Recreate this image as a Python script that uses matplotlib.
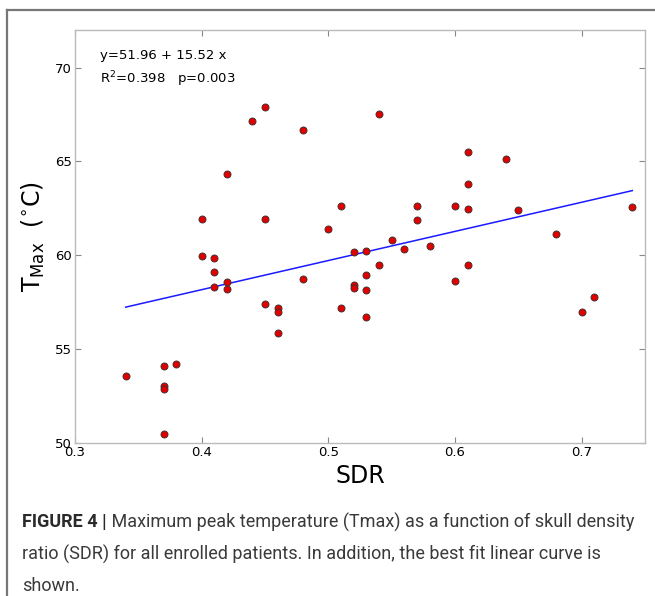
import matplotlib.pyplot as plt
import numpy as np
from matplotlib.lines import Line2D

# SDR vs maximum peak temperature
sdr = [0.34, 0.37, 0.37, 0.37, 0.37, 0.38,
       0.40, 0.40, 0.41, 0.41, 0.41, 0.42, 0.42, 0.42,
       0.44, 0.45, 0.45, 0.45, 0.46, 0.46, 0.46,
       0.48, 0.48, 0.50, 0.51, 0.51,
       0.52, 0.52, 0.52, 0.53, 0.53, 0.53, 0.53,
       0.54, 0.54, 0.55, 0.56, 0.57, 0.57, 0.58,
       0.60, 0.60, 0.61, 0.61, 0.61, 0.61,
       0.64, 0.65, 0.68, 0.70, 0.71, 0.74]
tmax = [53.57, 54.10, 53.05, 52.90, 50.46, 54.23,
        61.95, 59.96, 59.86, 59.10, 58.32, 64.35, 58.60, 58.20,
        67.15, 67.90, 61.93, 57.39, 57.21, 56.98, 55.84,
        66.67, 58.76, 61.42, 62.65, 57.21,
        60.16, 58.40, 58.25, 60.23, 58.94, 58.16, 56.73,
        67.54, 59.49, 60.80, 60.34, 62.65, 61.90, 60.50,
        62.64, 58.65, 65.52, 63.82, 62.44, 59.49,
        65.15, 62.42, 61.12, 56.96, 57.80, 62.55]

intercept = 51.96
slope = 15.52
r2 = 0.398
pval = 0.003

caption_bold = "FIGURE 4 |"
caption_lines = [
    " Maximum peak temperature (Tmax) as a function of skull density",
    "ratio (SDR) for all enrolled patients. In addition, the best fit linear curve is",
    "shown.",
]

fig = plt.figure(figsize=(6.55, 5.96), dpi=100)
ax = fig.add_axes([75 / 655, 1 - 443 / 596, 570 / 655, 413 / 596])

fit_x = np.array([min(sdr), max(sdr)])
ax.plot(fit_x, intercept + slope * fit_x, color="#1a1aff", lw=1.1, zorder=2)
ax.scatter(sdr, tmax, s=26, color="#e00000", edgecolors="#333333",
           linewidths=0.6, zorder=3)

ax.set_xlim(0.3, 0.75)
ax.set_ylim(50, 72)
ax.set_xticks([0.3, 0.4, 0.5, 0.6, 0.7])
ax.set_yticks([50, 55, 60, 65, 70])
ax.set_xticklabels(["0.3", "0.4", "0.5", "0.6", "0.7"])
ax.tick_params(direction="in", length=4, width=0.8, color="#888888",
               labelsize=9.5, top=True, right=True, pad=2)
for sp in ax.spines.values():
    sp.set_color("#bbbbbb")
    sp.set_linewidth(1.0)

ax.set_xlabel("SDR", fontsize=17, labelpad=4)
ax.set_ylabel(r"T$_{\rm Max}$  ($^{\circ}$C)", fontsize=17, labelpad=6)

ax.text(0.044, 0.955, f"y={intercept:.2f} + {slope:.2f} x", transform=ax.transAxes,
        fontsize=9.5, va="top")
ax.text(0.044, 0.905, f"R$^2$={r2:.3f}   p={pval:.3f}", transform=ax.transAxes,
        fontsize=9.5, va="top")

# outer frame (top and left edges only are visible)
fig.add_artist(Line2D([7 / 655, 1], [1 - 10 / 596, 1 - 10 / 596], color="#777777",
                      lw=1.6, transform=fig.transFigure))
fig.add_artist(Line2D([7 / 655, 7 / 655], [0, 1 - 10 / 596], color="#777777",
                      lw=1.6, transform=fig.transFigure))

# caption
cap_font = "Roboto"
cap_size = 13
t = fig.text(22 / 655, 1 - 522 / 596, caption_bold, fontsize=cap_size, fontweight="bold",
             family=cap_font, color="#2a2a2a", va="center")
fig.canvas.draw()
bb = t.get_window_extent()
fig.text(bb.x1 / fig.bbox.width, 1 - 522 / 596, caption_lines[0], fontsize=cap_size,
         family=cap_font, color="#3a3a3a", va="center")
fig.text(22 / 655, 1 - 554 / 596, caption_lines[1], fontsize=cap_size,
         family=cap_font, color="#3a3a3a", va="center")
fig.text(22 / 655, 1 - 586 / 596, caption_lines[2], fontsize=cap_size,
         family=cap_font, color="#3a3a3a", va="center")

fig.savefig("out.png", dpi=100)
